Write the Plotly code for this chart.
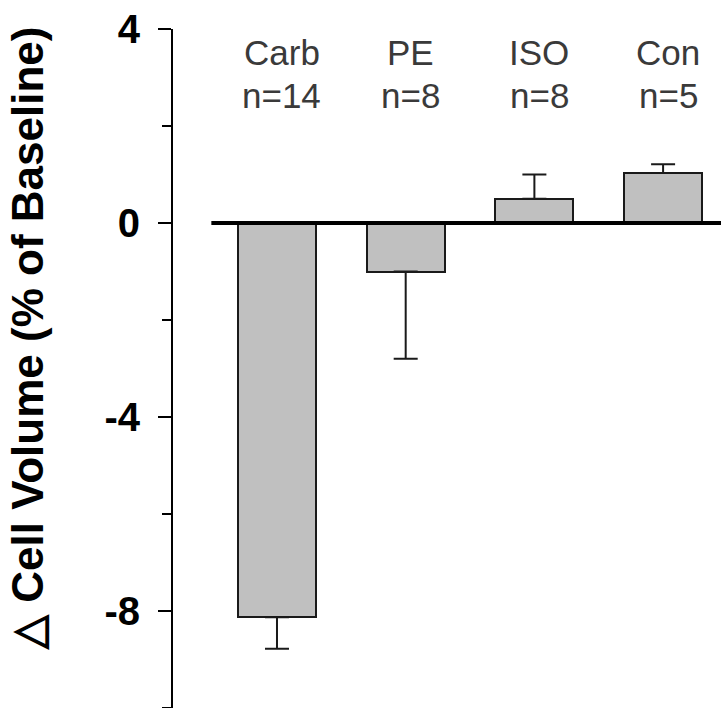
import plotly.graph_objects as go

categories = ["Carb", "PE", "ISO", "Con"]
n_counts = ["n=14", "n=8", "n=8", "n=5"]
values = [-8.13, -1.0, 0.5, 1.03]
err_up = [0.0, 0.0, 0.5, 0.18]
err_down = [0.65, 1.8, 0.0, 0.0]
ytick_vals = [-8, -4, 0, 4]
ytick_text = ["-8", "-4", "0", "4"]
yminor_vals = [-10, -6, -2, 2]

W, H = 721, 708
L, T = 173, 29
ph = H - T

fig = go.Figure()
fig.add_trace(go.Bar(
    x=categories, y=values, width=0.606,
    marker=dict(color="#c0c0c0", line=dict(color="#1a1a1a", width=2)),
    error_y=dict(type="data", symmetric=False, array=err_up, arrayminus=err_down,
                 color="#1a1a1a", thickness=2, width=12),
    showlegend=False,
))

# zero baseline
fig.add_shape(type="line", xref="x", yref="y", x0=-0.51, x1=3.5, y0=0, y1=0,
              line=dict(color="black", width=4))

label_font = dict(family="Liberation Sans, Arial", size=35, color="#3a3a3a")
for i, (c, n) in enumerate(zip(categories, n_counts)):
    fig.add_annotation(x=i, y=(H - 53) / ph, text=c,
                       xref="x", yref="paper", showarrow=False, font=label_font,
                       xshift=5, yanchor="middle")
    fig.add_annotation(x=i, y=(H - 96) / ph, text=n, xref="x", yref="paper",
                       showarrow=False, font=label_font, xshift=5, yanchor="middle")

fig.add_annotation(text="△ Cell Volume (% of Baseline)", textangle=-90,
                   xref="paper", yref="paper",
                   x=(27 - L) / (W - L), y=(H - 339) / ph,
                   xanchor="center", yanchor="middle", showarrow=False,
                   font=dict(family="Liberation Sans, Arial", size=44, color="black", weight="bold"))

fig.update_xaxes(visible=False, range=[-0.808, 3.45], fixedrange=True)
fig.update_yaxes(range=[-10, 4], tickvals=ytick_vals, ticktext=ytick_text,
                 ticks="outside", ticklen=13, tickwidth=2, tickcolor="black",
                 showline=True, linecolor="black", linewidth=2,
                 showgrid=False, zeroline=False, ticklabelstandoff=10,
                 tickfont=dict(family="Liberation Sans, Arial", size=40, color="black", weight="bold"),
                 minor=dict(tickvals=yminor_vals, ticks="outside", ticklen=9,
                            tickwidth=2, tickcolor="black", showgrid=False))

fig.update_layout(width=W, height=H, margin=dict(l=L, r=0, t=T, b=0),
                  plot_bgcolor="white", paper_bgcolor="white", bargap=0)

fig.write_html("out.html")
